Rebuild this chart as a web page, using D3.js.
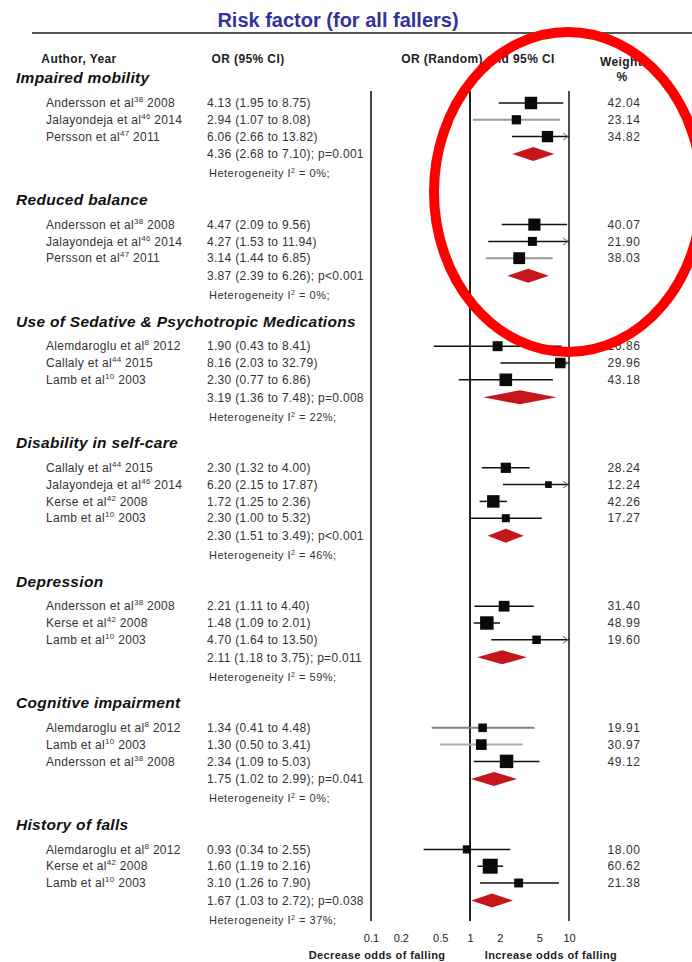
<!DOCTYPE html>
<html>
<head>
<meta charset="utf-8">
<script src="https://cdn.jsdelivr.net/npm/d3@7"></script>
<style>
  body { margin: 0; background: #fff; }
  svg { font-family: "Liberation Sans", Arial, sans-serif; }
</style>
</head>
<body>
<div class="main"></div>
<script>
//data
var groupNames = ["Impaired mobility", "Reduced balance", "Use of Sedative & Psychotropic Medications",
	"Disability in self-care", "Depression", "Cognitive impairment", "History of falls"];
var studyAuthors = [
	["Andersson", "Jalayondeja", "Persson"],
	["Andersson", "Jalayondeja", "Persson"],
	["Alemdaroglu", "Callaly", "Lamb"],
	["Callaly", "Jalayondeja", "Kerse", "Lamb"],
	["Andersson", "Kerse", "Lamb"],
	["Alemdaroglu", "Lamb", "Andersson"],
	["Alemdaroglu", "Kerse", "Lamb"]];
var studyRefs = [[38, 46, 47], [38, 46, 47], [8, 44, 10], [44, 46, 42, 10], [38, 42, 10], [8, 10, 38], [8, 42, 10]];
var studyYears = [[2008, 2014, 2011], [2008, 2014, 2011], [2012, 2015, 2003], [2015, 2014, 2008, 2003],
	[2008, 2008, 2003], [2012, 2003, 2008], [2012, 2008, 2003]];
var studyOR = [[4.13, 2.94, 6.06], [4.47, 4.27, 3.14], [1.90, 8.16, 2.30], [2.30, 6.20, 1.72, 2.30],
	[2.21, 1.48, 4.70], [1.34, 1.30, 2.34], [0.93, 1.60, 3.10]];
var studyLower = [[1.95, 1.07, 2.66], [2.09, 1.53, 1.44], [0.43, 2.03, 0.77], [1.32, 2.15, 1.25, 1.00],
	[1.11, 1.09, 1.64], [0.41, 0.50, 1.09], [0.34, 1.19, 1.26]];
var studyUpper = [[8.75, 8.08, 13.82], [9.56, 11.94, 6.85], [8.41, 32.79, 6.86], [4.00, 17.87, 2.36, 5.32],
	[4.40, 2.01, 13.50], [4.48, 3.41, 5.03], [2.55, 2.16, 7.90]];
var studyWeight = [[42.04, 23.14, 34.82], [40.07, 21.90, 38.03], [26.86, 29.96, 43.18], [28.24, 12.24, 42.26, 17.27],
	[31.40, 48.99, 19.60], [19.91, 30.97, 49.12], [18.00, 60.62, 21.38]];
var pooledOR = [4.36, 3.87, 3.19, 2.30, 2.11, 1.75, 1.67];
var pooledLower = [2.68, 2.39, 1.36, 1.51, 1.18, 1.02, 1.03];
var pooledUpper = [7.10, 6.26, 7.48, 3.49, 3.75, 2.99, 2.72];
var pooledP = ["p=0.001", "p<0.001", "p=0.008", "p<0.001", "p=0.011", "p=0.041", "p=0.038"];
var hetI2 = [0, 0, 22, 46, 59, 0, 37];
var tickValues = [0.1, 0.2, 0.5, 1, 2, 5, 10];

//some CI lines are lighter in the original picture
var greyLines = {"0-1": "#9a9a9a", "1-2": "#9a9a9a", "5-0": "#808080", "5-1": "#ababab"};

//canvas config
var width = 692, height = 962;
var fmt = d3.format(".2f");

var svg = d3.select(".main")
	.append("svg")
	.attr("width", width)
	.attr("height", height);

var x = d3.scaleLog().domain([0.1, 10]).range([371, 569]);
var boxSize = d3.scaleSqrt().domain([0, 61]).range([0, 15]);

//row layout: every row gets its y from the running position
var layout = [];
var yPos = 78;
groupNames.forEach(function(name, g) {
	layout.push({type: "group", g: g, y: yPos});
	yPos += 25;
	studyOR[g].forEach(function(v, i) {
		layout.push({type: "study", g: g, i: i, y: yPos});
		if (i < studyOR[g].length - 1) yPos += 16.8;
	});
	yPos += 17.5;
	layout.push({type: "pooled", g: g, y: yPos});
	yPos += 19.5;
	layout.push({type: "het", g: g, y: yPos});
	yPos += 26;
});
var firstStudy = layout.filter(function(d) { return d.type == "study"; })[0];
var lastHet = layout[layout.length - 1];

//title and rule
svg.append("text")
	.attr("x", 338).attr("y", 27)
	.attr("text-anchor", "middle")
	.style("font-size", "20px").style("font-weight", "bold")
	.style("fill", "#34329c")
	.text("Risk factor (for all fallers)");
svg.append("line")
	.attr("x1", 32).attr("x2", width).attr("y1", 33).attr("y2", 33)
	.style("stroke", "#555").style("stroke-width", 2);

//column headers
var headers = svg.append("g")
	.style("font-size", "12px").style("font-weight", "bold").style("letter-spacing", "0.4px")
	.style("fill", "#222");
headers.append("text").attr("x", 79).attr("y", 63).attr("text-anchor", "middle").text("Author, Year");
headers.append("text").attr("x", 248).attr("y", 63).attr("text-anchor", "middle").text("OR (95% CI)");
headers.append("text").attr("x", 478).attr("y", 63).attr("text-anchor", "middle").text("OR (Random) and 95% CI");
headers.append("text").attr("x", 621).attr("y", 66).attr("text-anchor", "middle").text("Weight");
headers.append("text").attr("x", 622).attr("y", 81).attr("text-anchor", "middle").text("%");

//reference lines at 0.1, 1 and 10
svg.append("g")
	.selectAll("line")
	.data([0.1, 1, 10])
	.enter()
	.append("line")
	.attr("x1", function(d) { return x(d); })
	.attr("x2", function(d) { return x(d); })
	.attr("y1", firstStudy.y - 12)
	.attr("y2", lastHet.y + 1)
	.style("stroke", function(d) { return d == 0.1 ? "#444" : "#222"; })
	.style("stroke-width", function(d) { return d == 10 ? 1.6 : 2; });

//group titles
svg.append("g")
	.selectAll("text")
	.data(layout.filter(function(d) { return d.type == "group"; }))
	.enter()
	.append("text")
	.attr("x", 16)
	.attr("y", function(d) { return d.y; })
	.attr("dy", "0.35em")
	.style("font-size", "15.5px").style("font-weight", "bold").style("font-style", "italic")
	.style("letter-spacing", "0.3px")
	.style("fill", "#111")
	.text(function(d) { return groupNames[d.g]; });

//study rows
var studies = layout.filter(function(d) { return d.type == "study"; });
var studyRows = svg.append("g")
	.attr("class", "studies")
	.style("font-size", "12px").style("letter-spacing", "0.3px")
	.selectAll("g")
	.data(studies)
	.enter()
	.append("g");

var author = studyRows.append("text")
	.attr("x", 46)
	.attr("y", function(d) { return d.y; })
	.attr("dy", "0.35em")
	.style("fill", "#333");
author.append("tspan").text(function(d) { return studyAuthors[d.g][d.i] + " et al"; });
author.append("tspan").attr("dy", -5).style("font-size", "8px").text(function(d) { return studyRefs[d.g][d.i]; });
author.append("tspan").attr("dy", 5).text(function(d) { return " " + studyYears[d.g][d.i]; });

studyRows.append("text")
	.attr("x", 207)
	.attr("y", function(d) { return d.y; })
	.attr("dy", "0.35em")
	.style("fill", "#333")
	.text(function(d) {
		return fmt(studyOR[d.g][d.i]) + " (" + fmt(studyLower[d.g][d.i]) + " to " + fmt(studyUpper[d.g][d.i]) + ")";
	});

studyRows.append("text")
	.attr("x", 624)
	.attr("y", function(d) { return d.y; })
	.attr("dy", "0.35em")
	.attr("text-anchor", "middle")
	.style("letter-spacing", "0.6px")
	.style("fill", "#333")
	.text(function(d) { return fmt(studyWeight[d.g][d.i]); });

//confidence interval lines, clipped to the axis range
studyRows.append("line")
	.attr("x1", function(d) { return x(Math.max(studyLower[d.g][d.i], 0.1)); })
	.attr("x2", function(d) { return x(Math.min(studyUpper[d.g][d.i], 10)); })
	.attr("y1", function(d) { return d.y; })
	.attr("y2", function(d) { return d.y; })
	.style("stroke", function(d) { return greyLines[d.g + "-" + d.i] || "#111"; })
	.style("stroke-width", function(d) { return greyLines[d.g + "-" + d.i] ? 2 : 1.5; });

//arrow head when the CI runs past 10
studyRows.filter(function(d) { return studyUpper[d.g][d.i] > 10; })
	.append("path")
	.attr("d", function(d) {
		var xe = x(10) - 1;
		return "M" + (xe - 5) + "," + (d.y - 3.5) + "L" + xe + "," + d.y + "L" + (xe - 5) + "," + (d.y + 3.5);
	})
	.style("fill", "none").style("stroke", "#666").style("stroke-width", 1);

//weighted squares
studyRows.append("rect")
	.attr("x", function(d) { return x(studyOR[d.g][d.i]) - boxSize(studyWeight[d.g][d.i]) / 2; })
	.attr("y", function(d) { return d.y - boxSize(studyWeight[d.g][d.i]) / 2; })
	.attr("width", function(d) { return boxSize(studyWeight[d.g][d.i]); })
	.attr("height", function(d) { return boxSize(studyWeight[d.g][d.i]); })
	.style("fill", "#0a0a0a");

//pooled estimate rows
var pooled = svg.append("g")
	.selectAll("g")
	.data(layout.filter(function(d) { return d.type == "pooled"; }))
	.enter()
	.append("g");
pooled.append("text")
	.attr("x", 207)
	.attr("y", function(d) { return d.y; })
	.attr("dy", "0.35em")
	.style("font-size", "12px").style("letter-spacing", "0.3px")
	.style("fill", "#333")
	.text(function(d) {
		return fmt(pooledOR[d.g]) + " (" + fmt(pooledLower[d.g]) + " to " + fmt(pooledUpper[d.g]) + "); " + pooledP[d.g];
	});
pooled.append("path")
	.attr("d", function(d) {
		return "M" + x(pooledLower[d.g]) + "," + d.y +
			"L" + x(pooledOR[d.g]) + "," + (d.y - 7) +
			"L" + x(pooledUpper[d.g]) + "," + d.y +
			"L" + x(pooledOR[d.g]) + "," + (d.y + 7) + "Z";
	})
	.style("fill", "#c4161c");

//heterogeneity rows
var het = svg.append("g")
	.selectAll("text")
	.data(layout.filter(function(d) { return d.type == "het"; }))
	.enter()
	.append("text")
	.attr("x", 209)
	.attr("y", function(d) { return d.y; })
	.attr("dy", "0.35em")
	.style("font-size", "11px").style("letter-spacing", "0.5px")
	.style("fill", "#333");
het.append("tspan").text("Heterogeneity I");
het.append("tspan").attr("dy", -4).style("font-size", "7px").text("2");
het.append("tspan").attr("dy", 4).text(function(d) { return " = " + hetI2[d.g] + "%;"; });

//x axis
var xAxis = d3.axisBottom(x)
	.tickValues(tickValues)
	.tickFormat(d3.format(""))
	.tickSize(0);
var axisG = svg.append("g")
	.attr("class", "x-axis")
	.attr("transform", "translate(0," + (lastHet.y + 11) + ")")
	.call(xAxis);
axisG.select(".domain").remove();
axisG.selectAll("text")
	.style("font-size", "11px")
	.style("font-family", "'Liberation Sans', Arial, sans-serif")
	.style("fill", "#222");

var bottomLabels = svg.append("g")
	.style("font-size", "11px").style("font-weight", "bold").style("letter-spacing", "0.4px")
	.style("fill", "#222");
bottomLabels.append("text")
	.attr("x", 377).attr("y", lastHet.y + 39)
	.attr("text-anchor", "middle")
	.text("Decrease odds of falling");
bottomLabels.append("text")
	.attr("x", 551).attr("y", lastHet.y + 39)
	.attr("text-anchor", "middle")
	.text("Increase odds of falling");

//red annotation ring
svg.append("ellipse")
	.attr("cx", 568).attr("cy", 192)
	.attr("rx", 134).attr("ry", 160)
	.style("fill", "none")
	.style("stroke", "#ff0000")
	.style("stroke-width", 10);
</script>
</body>
</html>
